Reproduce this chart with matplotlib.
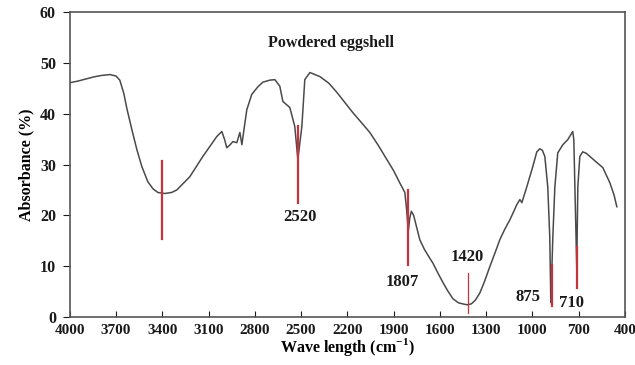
import matplotlib
matplotlib.use("Agg")
import matplotlib.pyplot as plt

# FTIR spectrum of powdered eggshell (wavenumber in cm-1, absorbance in %)
wavenumber = [4000, 3950, 3900, 3850, 3800, 3740, 3700, 3676, 3650, 3630,
              3598, 3565, 3533, 3494, 3460, 3429, 3384, 3340, 3306, 3222,
              3137, 3047, 3014, 2995, 2982, 2960, 2943, 2917, 2905, 2897,
              2884, 2870, 2852, 2820, 2780, 2748, 2703, 2670, 2638, 2618,
              2595, 2573, 2541, 2521, 2495, 2476, 2443, 2378, 2320, 2268,
              2164, 2110, 2054, 2000, 1944, 1900, 1860, 1827, 1815, 1805,
              1795, 1785, 1770, 1750, 1730, 1700, 1670, 1645, 1610, 1580,
              1550, 1515, 1480, 1440, 1420, 1395, 1370, 1341, 1310, 1276,
              1240, 1211, 1180, 1146, 1120, 1101, 1081, 1068, 1036, 997,
              971, 952, 935, 919, 900, 887, 880, 867, 854, 835,
              802, 770, 738, 731, 712, 705, 692, 673, 650, 627,
              582, 543, 497, 470, 452]
absorbance = [46.1, 46.4, 46.8, 47.2, 47.5, 47.7, 47.4, 46.6, 44.0, 41.0,
              36.9, 32.9, 29.6, 26.6, 25.2, 24.5, 24.3, 24.5, 25.0, 27.6,
              31.6, 35.5, 36.5, 34.8, 33.3, 33.9, 34.5, 34.3, 35.5, 36.3,
              33.9, 37.0, 40.8, 43.8, 45.3, 46.2, 46.6, 46.7, 45.4, 42.4,
              41.8, 41.2, 37.5, 31.0, 37.5, 46.7, 48.1, 47.3, 46.0, 44.2,
              40.2, 38.3, 36.3, 33.8, 31.0, 28.8, 26.4, 24.5, 21.0, 16.8,
              19.5, 20.8, 20.0, 17.6, 15.2, 13.3, 11.8, 10.6, 8.5, 6.8,
              5.2, 3.6, 2.8, 2.5, 2.4, 2.6, 3.3, 4.7, 7.0, 9.9,
              12.8, 15.2, 17.2, 19.1, 20.8, 22.1, 23.1, 22.5, 25.6, 29.6,
              32.5, 33.1, 32.8, 31.6, 25.6, 15.8, 2.8, 15.8, 25.6, 32.3,
              33.9, 34.9, 36.5, 34.9, 9.7, 25.6, 31.6, 32.5, 32.2, 31.6,
              30.4, 29.4, 26.4, 24.0, 21.7]

# band markers: position, lower / upper end of the red bar
band_pos = [3400, 2520, 1807, 1420, 875, 710]
band_lo = [15.4, 22.5, 10.3, 0.8, 2.2, 5.7]
band_hi = [30.6, 37.5, 25.0, 8.7, 10.3, 13.8]

# band labels: text and where it sits
label_text = ["2520", "1807", "1420", "875", "710"]
label_x = [2508, 1847, 1425, 1029, 744]
label_y = [19.7, 6.9, 11.8, 3.9, 2.8]

xticks = [4000, 3700, 3400, 3100, 2800, 2500, 2200, 1900, 1600, 1300, 1000, 700, 400]
yticks = [0, 10, 20, 30, 40, 50, 60]

plt.rcParams['font.family'] = ['Liberation Serif', 'DejaVu Serif']
plt.rcParams['font.weight'] = 'bold'
plt.rcParams['mathtext.fontset'] = 'custom'
plt.rcParams['mathtext.bf'] = 'Liberation Serif:bold'
plt.rcParams['mathtext.rm'] = 'Liberation Serif:bold'

fig = plt.figure(figsize=(6.35, 3.65), dpi=100)
ax = fig.add_axes([0.110, 0.1315, 0.874, 0.8355])

ax.plot(wavenumber, absorbance, color='#4a4a4a', lw=1.1, zorder=2)

for x, lo, hi in zip(band_pos, band_lo, band_hi):
    w = 0.9 if x == 1420 else 1.6
    ax.plot([x, x], [lo, hi], color='#c8323c', lw=w, zorder=3)

for t, x, y in zip(label_text, label_x, label_y):
    ax.text(x, y, t, ha='center', va='center', fontsize=12, fontweight='bold', color='#1a1a1a')

ax.text(2307, 54.0, "Powdered eggshell", ha='center', va='center', fontsize=11.5,
        fontweight='bold', color='#1a1a1a')

ax.set_xlim(4000, 400)
ax.set_ylim(0, 60)
ax.set_xticks(xticks)
ax.set_yticks(yticks)
ax.tick_params(axis='x', direction='in', length=4, labelsize=11, colors='#1a1a1a', pad=5)
ax.tick_params(axis='y', direction='out', length=5, labelsize=11.5, colors='#1a1a1a', pad=5)
for lbl in ax.get_xticklabels() + ax.get_yticklabels():
    lbl.set_fontweight('bold')
for s in ax.spines.values():
    s.set_color('#555555')
    s.set_linewidth(1.2)

ax.set_xlabel("Wave length (cm$^{-1}$)", fontsize=11.5, fontweight='bold', labelpad=-1)
ax.set_ylabel("Absorbance (%)", fontsize=11.5, fontweight='bold', labelpad=4)

fig.savefig("out.png", dpi=100)
